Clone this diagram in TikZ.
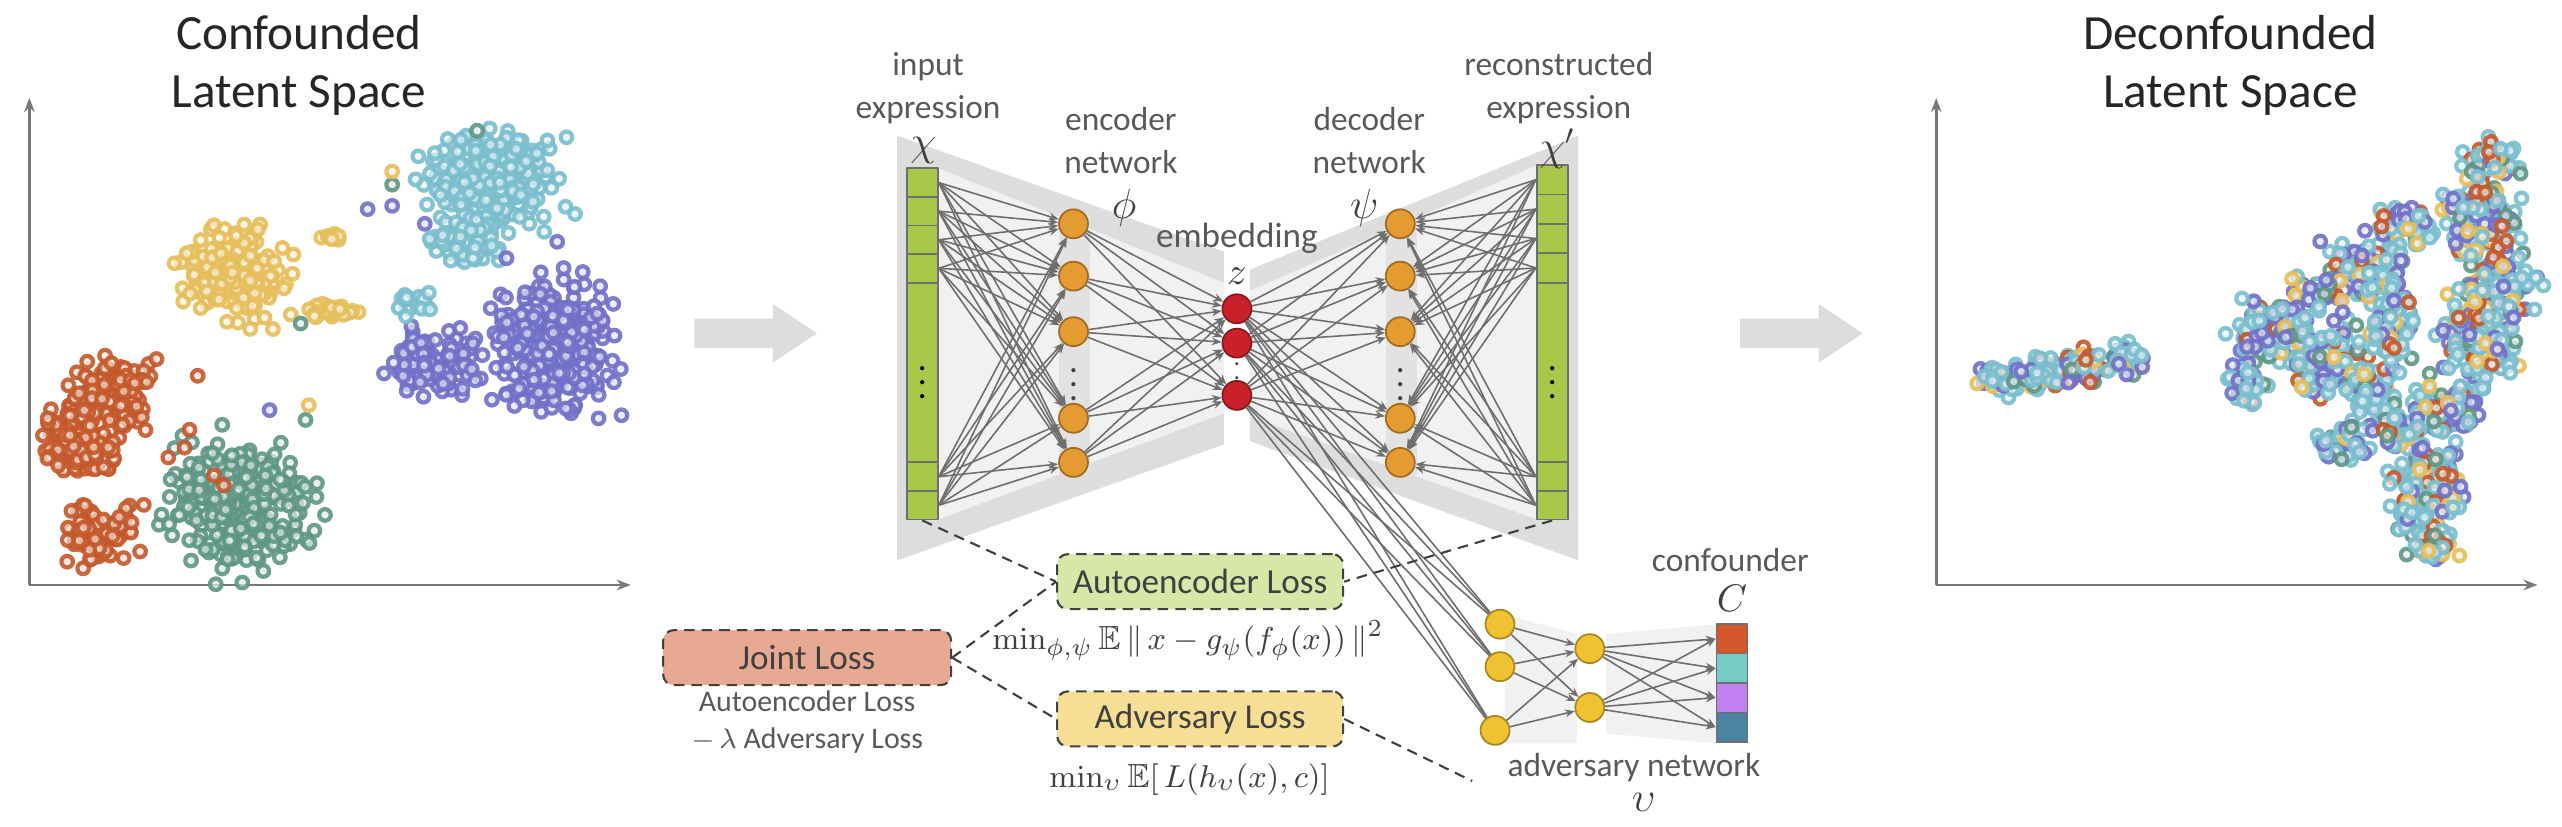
\documentclass[tikz,border=0pt]{standalone}
\usepackage{amsmath,amssymb}
\usepackage[no-math]{fontspec}
\setmainfont{Carlito}
\usetikzlibrary{arrows.meta}
\definecolor{ringcyan}{RGB}{122,190,206}
\definecolor{ringyel}{RGB}{230,190,90}
\definecolor{ringpurp}{RGB}{112,112,200}
\definecolor{ringred}{RGB}{196,88,42}
\definecolor{ringgreen}{RGB}{94,150,132}
\definecolor{axisgray}{RGB}{120,120,120}
\definecolor{wiregray}{RGB}{110,110,110}
\definecolor{bandgray}{RGB}{221,221,221}
\definecolor{fadegray}{RGB}{241,241,241}
\definecolor{colgray}{RGB}{226,226,226}
\definecolor{cellgreen}{RGB}{168,200,74}
\definecolor{encorange}{RGB}{228,155,50}
\definecolor{embred}{RGB}{200,33,43}
\definecolor{advyellow}{RGB}{240,194,50}
\definecolor{aeboxgreen}{RGB}{214,231,168}
\definecolor{jointsalmon}{RGB}{232,169,147}
\definecolor{advboxyellow}{RGB}{246,222,149}
\definecolor{confred}{RGB}{210,87,42}
\definecolor{confteal}{RGB}{116,204,194}
\definecolor{confviolet}{RGB}{194,127,240}
\definecolor{confblue}{RGB}{74,132,160}
\definecolor{inktext}{RGB}{64,64,64}
\definecolor{labelgray}{RGB}{89,89,89}
\definecolor{titleink}{RGB}{38,38,38}
\tikzset{
  ring/.style={draw=#1,fill=#1!20,line width=1.2pt,draw opacity=0.9,fill opacity=0.7},
  axisline/.style={draw=axisgray,line width=0.8pt,-{Stealth[length=4pt,width=3pt]}},
  wire/.style={draw=wiregray,line width=0.45pt,-{Stealth[length=2.8pt,width=2.2pt]}},
  wireplain/.style={draw=wiregray,line width=0.45pt},
  lossline/.style={draw=inktext,line width=0.6pt,densely dashed},
  cellbox/.style={draw=wiregray,line width=0.5pt,minimum width=0.31cm,inner sep=0pt},
  neuron/.style={circle,draw=#1!70!black,fill=#1,line width=0.5pt,minimum size=0.29cm,inner sep=0pt},
  lossbox/.style={draw=inktext,densely dashed,line width=0.6pt,rounded corners=3pt,fill=#1,minimum width=2.86cm,minimum height=0.55cm,font=\fontsize{10}{12}\selectfont,text=inktext},
  lbl/.style={font=\fontsize{9.5}{12.2}\selectfont,text=labelgray,align=center},
  sym/.style={font=\fontsize{12}{12}\selectfont,text=inktext},
  plottitle/.style={font=\fontsize{14}{16.3}\selectfont,text=titleink,align=center}
}
\newcommand{\blob}[6]{%
  \foreach \k in {1,...,#2}{%
    \pgfmathsetmacro{\px}{#3+#5*(rand+rand+rand)/2.4}%
    \pgfmathsetmacro{\py}{#4+#6*(rand+rand+rand)/2.4}%
    \draw[ring=#1] (\px,\py) circle[radius=0.058cm];}}
\newcommand{\mixblob}[5]{%
  \foreach \k in {1,...,#1}{%
    \pgfmathsetmacro{\px}{#2+#4*(rand+rand+rand)/2.4}%
    \pgfmathsetmacro{\py}{#3+#5*(rand+rand+rand)/2.4}%
    \pgfmathparse{{"ringcyan","ringcyan","ringcyan","ringcyan","ringcyan","ringcyan","ringpurp","ringpurp","ringpurp","ringred","ringyel","ringgreen"}[min(11,int(11.99*rnd))]}%
    \edef\rc{\pgfmathresult}%
    \draw[ring=\rc] (\px,\py) circle[radius=0.058cm];}}

\begin{document}
\begin{tikzpicture}[x=0.01634cm,y=-0.01634cm,line join=round]
\useasboundingbox (0,0) rectangle (1568,506);
\pgfmathsetseed{42}

\node[plottitle] (lefttitle) at (183,40) {Confounded\\Latent Space};
\draw[axisline] (18,358) -- (18,60);
\draw[axisline] (18,358) -- (386,358);
\blob{ringpurp}{320}{340}{212}{40}{47}
\blob{ringpurp}{110}{268}{222}{29}{23}
\blob{ringcyan}{280}{303}{108}{46}{30}
\blob{ringcyan}{90}{287}{145}{25}{19}
\blob{ringcyan}{20}{254}{184}{13}{14}
\blob{ringyel}{200}{143}{168}{38}{32}
\blob{ringyel}{40}{204}{190}{23}{6}
\blob{ringyel}{8}{202}{145}{15}{6}
\blob{ringred}{120}{68}{240}{27}{25}
\blob{ringred}{120}{50}{268}{29}{25}
\blob{ringred}{80}{62}{328}{25}{20}
\blob{ringgreen}{270}{146}{310}{46}{44}
\foreach \sx/\sy in {225/128,240/126,260/137,341/148,310/158,165/251}
  \draw[ring=ringpurp] (\sx,\sy) circle[radius=0.058cm];
\foreach \sx/\sy in {121/230,116/263,113/274,103/280,88/309,131/291,137/297}
  \draw[ring=ringred] (\sx,\sy) circle[radius=0.058cm];
\foreach \sx/\sy in {184/198,187/257,136/260,292/80,240/113}
  \draw[ring=ringgreen] (\sx,\sy) circle[radius=0.058cm];
\draw[ring=ringyel] (189,248) circle[radius=0.058cm];
\draw[ring=ringyel] (240,105) circle[radius=0.058cm];

\node[plottitle] (righttitle) at (1365,40) {Deconfounded\\Latent Space};
\draw[axisline] (1185,358) -- (1185,60);
\draw[axisline] (1185,358) -- (1553,358);
\mixblob{50}{1225}{233}{15}{10}
\mixblob{55}{1250}{229}{15}{11}
\mixblob{55}{1275}{223}{15}{12}
\mixblob{40}{1302}{220}{13}{10}
\mixblob{70}{1525}{97}{18}{14}
\mixblob{160}{1520}{135}{26}{28}
\mixblob{90}{1530}{175}{24}{18}
\mixblob{170}{1518}{205}{26}{32}
\mixblob{100}{1497}{250}{28}{18}
\mixblob{160}{1485}{300}{25}{32}
\mixblob{45}{1490}{335}{16}{10}
\mixblob{70}{1470}{140}{22}{14}
\mixblob{70}{1445}{160}{22}{14}
\mixblob{60}{1455}{175}{20}{15}
\mixblob{50}{1420}{178}{18}{12}
\mixblob{130}{1390}{205}{28}{22}
\mixblob{110}{1425}{220}{25}{25}
\mixblob{60}{1452}{240}{20}{20}
\mixblob{40}{1375}{235}{15}{15}
\mixblob{45}{1435}{272}{18}{12}
\mixblob{40}{1468}{265}{15}{12}
\mixblob{60}{1465}{200}{15}{25}

\fill[bandgray] (425,195) -- (473,195) -- (473,186) -- (500,204) -- (473,222) -- (473,213) -- (425,213) -- cycle;
\fill[bandgray] (1065,195) -- (1113,195) -- (1113,186) -- (1140,204) -- (1113,222) -- (1113,213) -- (1065,213) -- cycle;

\fill[bandgray] (549,83) -- (749,154) -- (749,272) -- (549,343) -- cycle;
\fill[fadegray] (574,103) -- (749,173) -- (749,253) -- (574,318) -- cycle;
\fill[colgray] (648,130) rectangle (667,291);
\fill[bandgray] (765,165) -- (966,83) -- (966,343) -- (765,270) -- cycle;
\fill[fadegray] (765,178) -- (941,101) -- (941,318) -- (765,255) -- cycle;
\fill[colgray] (848,130) rectangle (867,291);
\fill[fadegray] (921,376) -- (965,388) -- (965,455) -- (921,455) -- cycle;
\fill[fadegray] (983,388) -- (1051,382) -- (1051,455) -- (983,449) -- cycle;

\node[cellbox,fill=cellgreen,minimum height=0.286cm] (in1) at (564.5,111.75) {};
\node[cellbox,fill=cellgreen,minimum height=0.286cm] (in2) at (564.5,129.25) {};
\node[cellbox,fill=cellgreen,minimum height=0.286cm] (in3) at (564.5,146.75) {};
\node[cellbox,fill=cellgreen,minimum height=0.286cm] (in4) at (564.5,164.25) {};
\node[cellbox,fill=cellgreen,minimum height=1.797cm] (inmid) at (564.5,228) {$\vdots$};
\node[cellbox,fill=cellgreen,minimum height=0.286cm] (in5) at (564.5,291.75) {};
\node[cellbox,fill=cellgreen,minimum height=0.286cm] (in6) at (564.5,309.25) {};

\node[cellbox,fill=cellgreen,minimum height=0.294cm] (out1) at (950,110) {};
\node[cellbox,fill=cellgreen,minimum height=0.294cm] (out2) at (950,128) {};
\node[cellbox,fill=cellgreen,minimum height=0.294cm] (out3) at (950,146) {};
\node[cellbox,fill=cellgreen,minimum height=0.294cm] (out4) at (950,164) {};
\node[cellbox,fill=cellgreen,minimum height=1.797cm] (outmid) at (950,228) {$\vdots$};
\node[cellbox,fill=cellgreen,minimum height=0.286cm] (out5) at (950,291.75) {};
\node[cellbox,fill=cellgreen,minimum height=0.286cm] (out6) at (950,309.25) {};

\node[neuron=encorange] (e1) at (657,137) {};
\node[neuron=encorange] (e2) at (657,169) {};
\node[neuron=encorange] (e3) at (657,203) {};
\node[text=inktext] (edots) at (657,229) {$\vdots$};
\node[neuron=encorange] (e4) at (657,256) {};
\node[neuron=encorange] (e5) at (657,283) {};

\node[neuron=embred] (z1) at (757,189) {};
\node[neuron=embred] (z2) at (757,210) {};
\node[text=inktext,font=\scriptsize] (zdots) at (757,225) {$\vdots$};
\node[neuron=embred] (z3) at (757,242) {};

\node[neuron=encorange] (d1) at (857,137) {};
\node[neuron=encorange] (d2) at (857,169) {};
\node[neuron=encorange] (d3) at (857,203) {};
\node[text=inktext] (ddots) at (857,229) {$\vdots$};
\node[neuron=encorange] (d4) at (857,256) {};
\node[neuron=encorange] (d5) at (857,283) {};

\node[neuron=advyellow] (a1) at (918,382) {};
\node[neuron=advyellow] (a2) at (918,408) {};
\node[neuron=advyellow] (a3) at (915,447) {};
\node[neuron=advyellow] (h1) at (973,397) {};
\node[neuron=advyellow] (h2) at (973,433) {};
\node[cellbox,fill=confred,minimum height=0.294cm] (c1) at (1060,391) {};
\node[cellbox,fill=confteal,minimum height=0.294cm] (c2) at (1060,409) {};
\node[cellbox,fill=confviolet,minimum height=0.294cm] (c3) at (1060,427) {};
\node[cellbox,fill=confblue,minimum height=0.294cm] (c4) at (1060,445) {};

\foreach \a in {in1,in2,in3,in4,in5,in6}
  \foreach \i in {1,...,5}
    \draw[wire] (\a.east) -- (e\i);
\foreach \i in {1,...,5}
  \foreach \j in {1,2,3}
    \draw[wire] (e\i) -- (z\j);
\foreach \j in {1,2,3}
  \foreach \i in {1,...,5}
    \draw[wire] (z\j) -- (d\i);
\foreach \a in {out1,out2,out3,out4,out5,out6}
  \foreach \i in {1,...,5}
    \draw[wire] (\a.west) -- (d\i);
\foreach \j in {1,2,3}
  \foreach \k in {1,2,3}
    \draw[wireplain] (z\j) -- (a\k);
\foreach \k in {1,2,3}
  \foreach \m in {1,2}
    \draw[wire] (a\k) -- (h\m);
\foreach \m in {1,2}
  \foreach \n in {1,...,4}
    \draw[wire] (h\m) -- (c\n.west);

\node[lbl] (inlabel) at (568,54) {input\\expression};
\node[sym] (insym) at (565,92) {$\chi$};
\node[lbl] (enclabel) at (686,86) {encoder\\network};
\node[sym] (encsym) at (688,127) {$\phi$};
\node[lbl,font=\fontsize{10}{12}\selectfont] (emblabel) at (757,146) {embedding};
\node[sym,font=\fontsize{11}{11}\selectfont] (embsym) at (757,169) {$z$};
\node[lbl] (declabel) at (838,86) {decoder\\network};
\node[sym] (decsym) at (835,127) {$\psi$};
\node[lbl] (outlabel) at (954,54) {reconstructed\\expression};
\node[sym] (outsym) at (953,91) {$\chi'$};
\node[lbl] (conflabel) at (1059,343) {confounder};
\node[sym,font=\fontsize{11}{11}\selectfont] (confsym) at (1060,366) {$C$};
\node[lbl] (advlabel) at (1000,470) {adversary network};
\node[sym] (advsym) at (1006,491) {$\upsilon$};

\node[lossbox=aeboxgreen] (aeloss) at (734.5,356) {Autoencoder Loss};
\node[lossbox=jointsalmon,minimum width=2.88cm] (jointloss) at (494,402.5) {Joint Loss};
\node[lossbox=advboxyellow] (advloss) at (734.5,440) {Adversary Loss};
\node[text=inktext,font=\fontsize{9.5}{12}\selectfont] (aeform) at (727,392) {$\min_{\phi,\psi}\mathbb{E}\,\|\,x-g_{\psi}(f_{\phi}(x))\,\|^{2}$};
\node[text=inktext,font=\fontsize{9.5}{12}\selectfont] (advform) at (728,477) {$\min_{\upsilon}\mathbb{E}[\,L(h_{\upsilon}(x),c)]$};
\node[lbl,font=\fontsize{8.5}{10.7}\selectfont] (jointform) at (494,442) {Autoencoder Loss\\$-\,\lambda$ Adversary Loss};
\coordinate (advend) at (901,478);

\draw[lossline] (in6.south) -- (aeloss.west);
\draw[lossline] (out6.south) -- (aeloss.east);
\draw[lossline] (jointloss.east) -- (aeloss.west);
\draw[lossline] (jointloss.east) -- (advloss.west);
\draw[lossline] (advloss.east) -- (advend);
\end{tikzpicture}
\end{document}
